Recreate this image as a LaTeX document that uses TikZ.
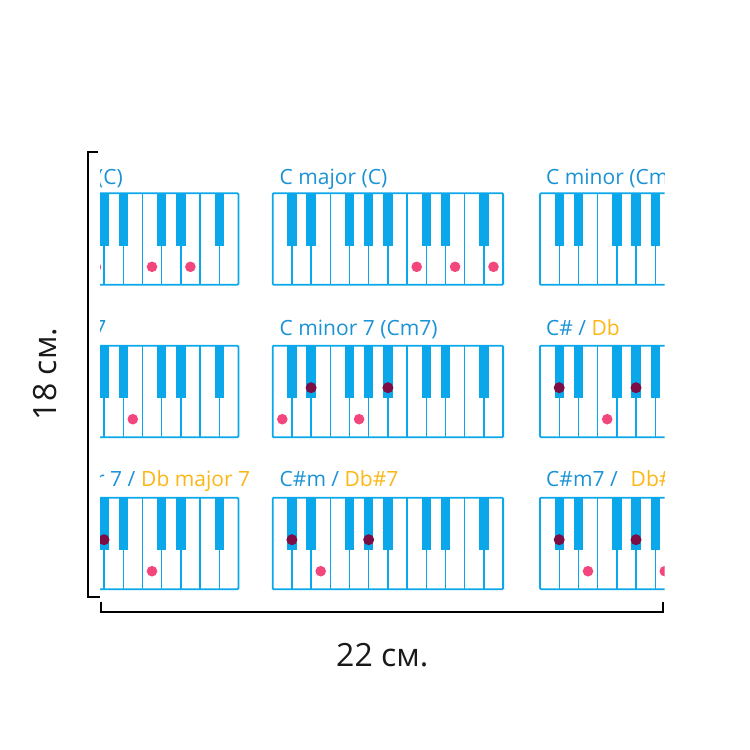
\documentclass[tikz,border=0pt]{standalone}
\usepackage{fontspec}
\setmainfont{Open Sans}
\definecolor{keyblue}{HTML}{0AA8EA}
\definecolor{textblue}{HTML}{1A93D6}
\definecolor{flatorange}{HTML}{FBB714}
\definecolor{rootred}{HTML}{F2467C}
\definecolor{darkdotc}{HTML}{7B0F45}
\tikzset{
  kbframe/.style={draw=keyblue, line width=1.8pt, rounded corners=1pt},
  kbline/.style={draw=keyblue, line width=1.4pt},
  blackkey/.style={fill=keyblue},
  reddot/.style={circle, fill=rootred, inner sep=0pt, minimum size=10.6pt},
  darkdot/.style={circle, fill=darkdotc, inner sep=0pt, minimum size=11pt},
  chordlabel/.style={inner sep=0pt, text=textblue, font=\fontsize{21}{21}\selectfont},
  bracketline/.style={draw=black, line width=2pt},
  dimlabel/.style={anchor=base, inner sep=0pt, text=black!90, font=\fontsize{32}{32}\selectfont}
}
\newcommand\keyboard[2]{%
  \begin{scope}[shift={(#1,#2)}]
    \foreach \i in {1,...,11} \draw[kbline] (\i*19.2,0) -- (\i*19.2,91.5);
    \foreach \j in {1,2,4,5,6,8,9,11} \fill[blackkey] (\j*19.2-4.7,0) rectangle (\j*19.2+4.7,52.5);
    \draw[kbframe] (0,0) rectangle (230.4,91.5);
  \end{scope}}
% white-key dot: name, x0, y0, key index
\newcommand\wdot[4]{\node[reddot] (#1) at ({#2+(#4-0.5)*19.2},{#3+73.5}) {};}
% black-key dot: name, x0, y0, boundary index
\newcommand\bdot[4]{\node[darkdot] (#1) at ({#2+#4*19.2},{#3+42}) {};}
\begin{document}
\begin{tikzpicture}[x=1pt,y=-1pt]
\fill[white] (0,0) rectangle (750,750);
\useasboundingbox (0,0) rectangle (750,750);
\begin{scope}
  \clip (100,140) rectangle (664.5,592);
  % keyboards
  \keyboard{8}{193.3}
  \keyboard{272.7}{193.3}
  \keyboard{540}{193.3}
  \keyboard{8}{345.7}
  \keyboard{272.7}{345.7}
  \keyboard{540}{345.7}
  \keyboard{8}{497.7}
  \keyboard{272.7}{497.7}
  \keyboard{540}{497.7}
  % labels
  \node[chordlabel, anchor=base east] (l11) at (123,184) {C major (C)};
  \node[chordlabel, anchor=base west] (l12) at (279.5,184) {C major (C)};
  \node[chordlabel, anchor=base west] (l13) at (546,184) {C minor (Cm)};
  \node[chordlabel, anchor=base east] (l21) at (106.5,335) {C major 7};
  \node[chordlabel, anchor=base west] (l22) at (279.5,335) {C minor 7 (Cm7)};
  \node[chordlabel, anchor=base west] (l23) at (546,335) {C\# / {\color{flatorange}Db}};
  \node[chordlabel, anchor=base east] (l31) at (135.5,486.5) {C\# major 7 /};
  \node[chordlabel, anchor=base west, text=flatorange] (l31b) at (141,486.5) {Db major 7};
  \node[chordlabel, anchor=base west] (l32) at (279.5,486.5) {C\#m / {\color{flatorange}Db\#7}};
  \node[chordlabel, anchor=base west] (l33) at (546,486.5) {C\#m7 /\hspace{13pt}{\color{flatorange}Db\#m7}};
  % row 1 dots
  \node[reddot] (d11a) at (96,267) {};
  \wdot{d11b}{8}{193.3}{8}
  \wdot{d11c}{8}{193.3}{10}
  \wdot{d12a}{272.7}{193.3}{8}
  \wdot{d12b}{272.7}{193.3}{10}
  \wdot{d12c}{272.7}{193.3}{12}
  % row 2 dots
  \wdot{d21a}{8}{345.7}{5}
  \wdot{d21b}{8}{345.7}{7}
  \wdot{d22a}{272.7}{345.7}{1}
  \wdot{d22b}{272.7}{345.7}{5}
  \bdot{d22c}{272.7}{345.7}{2}
  \bdot{d22d}{272.7}{345.7}{6}
  \bdot{d23a}{540}{345.7}{1}
  \bdot{d23b}{540}{345.7}{5}
  \wdot{d23c}{540}{345.7}{4}
  % row 3 dots
  \bdot{d31a}{8}{497.7}{5}
  \wdot{d31b}{8}{497.7}{8}
  \bdot{d32a}{272.7}{497.7}{1}
  \bdot{d32b}{272.7}{497.7}{5}
  \wdot{d32c}{272.7}{497.7}{3}
  \bdot{d33a}{540}{497.7}{1}
  \bdot{d33b}{540}{497.7}{5}
  \wdot{d33c}{540}{497.7}{3}
  \wdot{d33d}{540}{497.7}{7}
\end{scope}
% dimension brackets
\coordinate (vt) at (98,151.7);
\coordinate (vb) at (100,597);
\draw[bracketline] (vt) -- (88,151.7) -- (88,597) -- (vb);
\coordinate (hl) at (101,601.7);
\coordinate (hr) at (663.3,601.7);
\draw[bracketline] (hl) -- (101,611.7) -- (663.3,611.7) -- (hr);
\node[dimlabel, rotate=90] (h18) at (56.7,374) {18 см.};
\node[dimlabel] (w22) at (382.3,666.7) {22 см.};
\end{tikzpicture}
\end{document}
